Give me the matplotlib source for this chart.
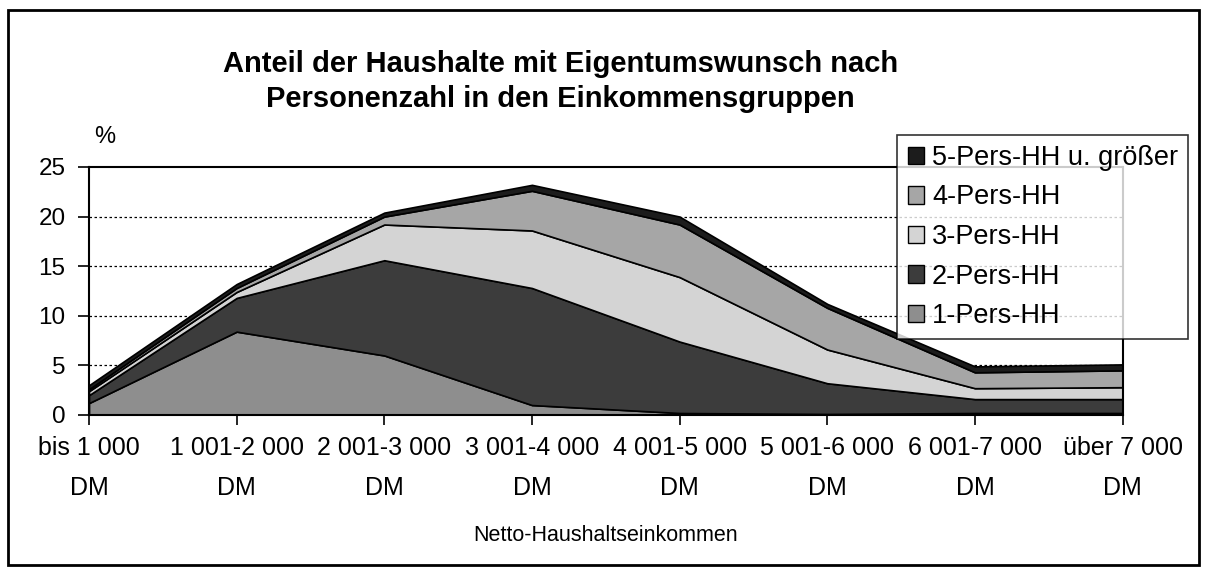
import matplotlib.pyplot as plt
from matplotlib.patches import Rectangle, Patch
import numpy as np

plt.rcParams['font.family'] = ['Liberation Sans', 'DejaVu Sans']

# income groups (x axis)
groups = ['bis 1 000\nDM', '1 001-2 000\nDM', '2 001-3 000\nDM', '3 001-4 000\nDM',
          '4 001-5 000\nDM', '5 001-6 000\nDM', '6 001-7 000\nDM', 'über 7 000\nDM']

# share of households (%) per household size, stacked
p1 = [1.2, 8.4, 6.0, 1.0, 0.2, 0.1, 0.2, 0.2]
p2 = [0.8, 3.4, 9.6, 11.8, 7.2, 3.1, 1.4, 1.4]
p3 = [0.4, 0.6, 3.6, 5.8, 6.5, 3.4, 1.1, 1.2]
p4 = [0.2, 0.4, 0.8, 4.0, 5.3, 4.2, 1.6, 1.7]
p5 = [0.4, 0.4, 0.4, 0.6, 0.8, 0.4, 0.6, 0.6]

names = ['1-Pers-HH', '2-Pers-HH', '3-Pers-HH', '4-Pers-HH', '5-Pers-HH u. größer']
colors = ['#8e8e8e', '#3c3c3c', '#d4d4d4', '#a6a6a6', '#1c1c1c']
yticks = [0, 5, 10, 15, 20, 25]

fig = plt.figure(figsize=(12.06, 5.68), dpi=100)
ax = fig.add_axes([0.0738, 0.2694, 0.857, 0.4366])

x = np.arange(len(groups))
ax.stackplot(x, p1, p2, p3, p4, p5, colors=colors, edgecolor='black', linewidth=1.2)

ax.set_xlim(0, len(groups) - 1)
ax.set_ylim(0, 25)
ax.set_yticks(yticks)
ax.set_xticks(x)
ax.set_xticklabels(groups, fontsize=18, linespacing=1.85)
ax.tick_params(axis='y', labelsize=17.5, length=8, width=1.2, pad=9)
ax.tick_params(axis='x', length=7, width=1.2, pad=8)
for s in ax.spines.values():
    s.set_linewidth(1.5)

for yv in yticks[1:-1]:
    ax.axhline(yv, color='black', linestyle=(0, (2, 2)), linewidth=0.9, zorder=0)

ax.set_xlabel('Netto-Haushaltseinkommen', fontsize=15.5, labelpad=18)

fig.text(0.465, 0.857, 'Anteil der Haushalte mit Eigentumswunsch nach\nPersonenzahl in den Einkommensgruppen',
         ha='center', va='center', fontsize=21, fontweight='bold', linespacing=1.3)
fig.text(0.087, 0.758, '%', ha='center', va='center', fontsize=17)

handles = [Patch(facecolor=colors[i], edgecolor='black', label=names[i]) for i in range(4, -1, -1)]
leg = fig.legend(handles=handles, loc='upper left', bbox_to_anchor=(0.744, 0.763),
                 fontsize=19.5, frameon=True, fancybox=False, edgecolor='black',
                 handlelength=0.6, handleheight=0.6, handletextpad=0.3,
                 labelspacing=0.5, borderpad=0.38, borderaxespad=0)
leg.get_frame().set_linewidth(1.2)

fig.add_artist(Rectangle((0.007, 0.005), 0.987, 0.978, transform=fig.transFigure,
                         fill=False, edgecolor='black', linewidth=2))

fig.savefig('out.png', dpi=100)
